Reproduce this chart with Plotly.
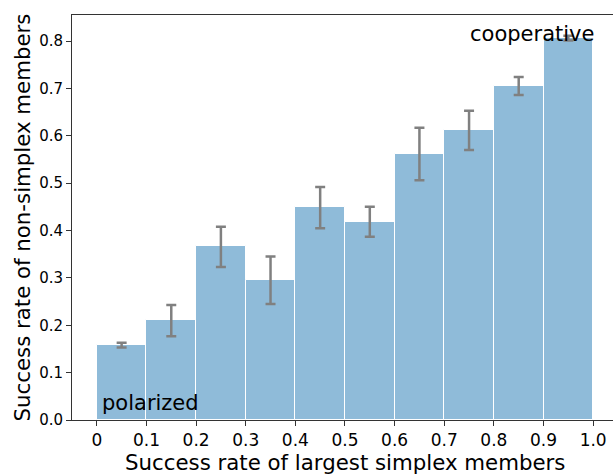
import plotly.graph_objects as go

# Data
bin_centers = [0.05, 0.15, 0.25, 0.35, 0.45, 0.55, 0.65, 0.75, 0.85, 0.95]
success_non_simplex = [0.158, 0.211, 0.367, 0.295, 0.450, 0.418, 0.561, 0.612, 0.705, 0.806]
err_plus = [0.005, 0.032, 0.041, 0.050, 0.042, 0.032, 0.056, 0.041, 0.019, 0.005]
err_minus = [0.005, 0.034, 0.044, 0.050, 0.045, 0.031, 0.055, 0.042, 0.019, 0.005]
x_tick_vals = [0, 0.1, 0.2, 0.3, 0.4, 0.5, 0.6, 0.7, 0.8, 0.9, 1.0]
x_tick_text = ["0", "0.1", "0.2", "0.3", "0.4", "0.5", "0.6", "0.7", "0.8", "0.9", "1.0"]
y_tick_vals = [0, 0.1, 0.2, 0.3, 0.4, 0.5, 0.6, 0.7, 0.8]
y_tick_text = ["0.0", "0.1", "0.2", "0.3", "0.4", "0.5", "0.6", "0.7", "0.8"]

FONT = "DejaVu Sans"

fig = go.Figure()
fig.add_trace(go.Bar(
    x=bin_centers,
    y=success_non_simplex,
    width=0.1,
    marker=dict(color="rgba(31,119,180,0.5)", line=dict(color="white", width=1)),
    error_y=dict(type="data", symmetric=False, array=err_plus, arrayminus=err_minus,
                 color="gray", thickness=2.5, width=5),
    showlegend=False,
))

fig.add_annotation(x=0.007, y=0.036, xref="x", yref="y", text="polarized",
                   showarrow=False, xanchor="left", yanchor="middle",
                   font=dict(family=FONT, size=21, color="black"))
fig.add_annotation(x=0.747, y=0.815, xref="x", yref="y", text="cooperative",
                   showarrow=False, xanchor="left", yanchor="middle",
                   font=dict(family=FONT, size=21, color="black"))
fig.add_annotation(x=0.5, y=0, xref="x", yref="y", yshift=-42,
                   text="Success rate of largest simplex members",
                   showarrow=False, xanchor="center", yanchor="middle",
                   font=dict(family=FONT, size=21.3, color="black"))
fig.add_annotation(x=0, y=0.4275, xref="paper", yref="y", xshift=-50,
                   text="Success rate of non-simplex members", textangle=-90,
                   showarrow=False, xanchor="center", yanchor="middle",
                   font=dict(family=FONT, size=21.3, color="black"))

fig.update_layout(
    width=613, height=474,
    margin=dict(l=72, r=0, t=15, b=54),
    paper_bgcolor="white", plot_bgcolor="white",
    font=dict(family=FONT, size=14, color="black"),
    bargap=0,
)
fig.update_xaxes(range=[-0.05, 1.04], tickvals=x_tick_vals, ticktext=x_tick_text,
                 showgrid=False, zeroline=False, showline=True, linecolor="#333",
                 linewidth=1, mirror=True, ticks="outside", ticklen=5,
                 tickcolor="#333", tickfont=dict(size=17, color="black"))
fig.update_yaxes(range=[0, 0.855], tickvals=y_tick_vals, ticktext=y_tick_text,
                 showgrid=False, zeroline=False, showline=True, linecolor="#333",
                 linewidth=1, ticks="outside", ticklen=5,
                 tickcolor="#333", tickfont=dict(size=15, color="black"))

fig.write_html("out.html")
